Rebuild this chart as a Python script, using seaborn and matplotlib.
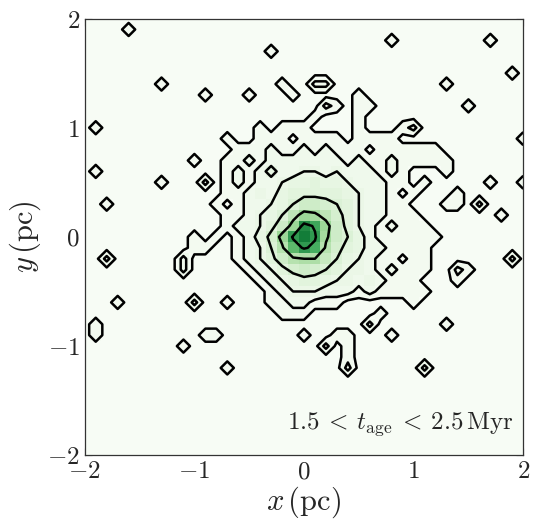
import numpy as np
import matplotlib
matplotlib.use("Agg")
import matplotlib.pyplot as plt
import seaborn as sns

# 2D histogram of stellar positions, 0.1 pc bins centred on -2.0 ... 2.0 pc
bin_centres = np.round(np.linspace(-2.0, 2.0, 41), 2)
bin_edges = np.round(np.linspace(-2.05, 2.05, 42), 3)
levels = [0.4, 1.5, 3, 6, 12, 24]
tick_vals = [-2, -1, 0, 1, 2]

# counts in the cluster core, one string per row (base-36 digits, '.' = 0)
# rows go from y = 1.0 down to y = -0.7, columns from x = -1.0 to x = 1.4
core_x0 = -1.0
core_y0 = 1.0
core_rows = [
    "......1.111....1.........",
    "...1..111.1111.1111......",
    "....111211212111.111111..",
    "...112122222221211211111.",
    "...12124223323222121...1.",
    "...12122344544322211.....",
    "...1123245555543221......",
    "....1223468876532211.....",
    "...112346aeda75322111....",
    "...122358erne853212111...",
    "....1247eptpd8642111111..",
    "....1236bkpmb754221111...",
    "....12358bcc9643211.11...",
    ".....12357876533212111...",
    "......123455433232111....",
    ".......123332221211111...",
    ".......1122111......1....",
    "........111..............",
]

# scattered stars outside the core: bin position (pc) and count
field_x = [-1.6, -0.3, -1.3, -0.9, -0.5, -0.2, -0.1, -1.9, -1.9, -1.8, -1.3, -1.0, -0.9, -0.8,
           0.8, 1.7, 1.9, 1.3, 1.5, 0.1, 0.2, 0.2, 0.3, 0.1, 0.5, 0.5, 0.6, 0.5, 0.9, 1.0,
           2.0, 1.7, 2.0, 1.6, 1.8, 1.4, 1.3, 1.4, 1.1, 1.0,
           -1.8, -1.7, -1.9, -1.9, -1.0, -0.7, -0.9, -0.8, -1.1, -0.7,
           -1.1, -1.1, -1.0, -1.0, -0.9, -0.8,
           1.9, 1.4, 1.5, 1.4, 1.3, 1.1,
           0.2, 0.3, 0.4, 0.4, 0.4, 0.4, 0.6, 0.7, 0.8, 0.0]
field_y = [1.9, 1.7, 1.4, 1.3, 1.3, 1.4, 1.3, 1.0, 0.6, 0.3, 0.5, 0.7, 0.5, 0.3,
           1.8, 1.8, 1.5, 1.4, 1.2, 1.4, 1.4, 1.2, 1.2, 1.1, 1.3, 1.2, 1.2, 1.1, 1.0, 1.0,
           0.9, 0.5, 0.5, 0.3, 0.2, 0.4, 0.3, 0.3, 0.5, 0.4,
           -0.2, -0.6, -0.8, -0.9, -0.6, -0.6, -0.9, -0.9, -1.0, -1.2,
           -0.2, -0.3, -0.1, 0.0, -0.1, 0.0,
           -0.2, -0.3, -0.3, -0.4, -0.8, -1.2,
           -1.0, -0.9, -0.9, -1.0, -1.1, -1.2, -0.8, -0.7, -0.9, -0.9]
field_n = [1, 1, 1, 1, 1, 1, 1, 1, 1, 1, 1, 1, 2, 1,
           1, 1, 1, 1, 1, 2, 2, 2, 1, 1, 1, 1, 1, 1, 1, 2,
           1, 1, 1, 2, 1, 1, 1, 1, 1, 1,
           2, 1, 1, 1, 2, 1, 1, 1, 1, 1,
           2, 2, 1, 1, 1, 1,
           2, 2, 1, 1, 1, 2,
           2, 1, 1, 1, 1, 2, 2, 1, 1, 1]


def to_idx(v):
    return int(round((v + 2.0) * 10))


nb = len(bin_centres)
H = np.zeros((nb, nb))
for r, row in enumerate(core_rows):
    iy = to_idx(core_y0 - 0.1 * r)
    for k, c in enumerate(row):
        if c != ".":
            H[iy, to_idx(core_x0 + 0.1 * k)] += int(c, 36)
for x, y, n in zip(field_x, field_y, field_n):
    H[to_idx(y), to_idx(x)] += n

sns.set_style("ticks")
plt.rcParams["font.family"] = ["DejaVu Serif"]
plt.rcParams["mathtext.fontset"] = "cm"
plt.rcParams["xtick.direction"] = "in"
plt.rcParams["ytick.direction"] = "in"

fig = plt.figure(figsize=(5.4, 5.3), dpi=100)
ax = fig.add_axes([0.157, 0.141, 0.812, 0.824])

greens = sns.color_palette("Greens", as_cmap=True)
ax.pcolormesh(bin_edges, bin_edges, H, cmap=greens, vmin=0, vmax=36, shading="flat")
ax.contour(bin_centres, bin_centres, H, levels=levels, colors="k", linewidths=1.8)

ax.set_xlim(-2, 2)
ax.set_ylim(-2, 2)
ax.set_xticks(tick_vals)
ax.set_yticks(tick_vals)
ax.set_xticklabels([r"$%d$" % t for t in tick_vals], fontsize=18)
ax.set_yticklabels([r"$%d$" % t for t in tick_vals], fontsize=18)
ax.tick_params(top=True, right=True, length=5, width=0.8, color="#333333")
for s in ax.spines.values():
    s.set_linewidth(0.9)
    s.set_color("#333333")

ax.set_xlabel(r"$x\,(\mathrm{pc})$", fontsize=22, labelpad=1)
ax.set_ylabel(r"$y\,(\mathrm{pc})$", fontsize=22, labelpad=3)
ax.text(0.978, 0.072, r"$1.5\:<\:t_{\rm age}\:<\:2.5\,{\rm Myr}$", transform=ax.transAxes,
        ha="right", va="center", fontsize=18)

fig.savefig("out.png", dpi=100)
